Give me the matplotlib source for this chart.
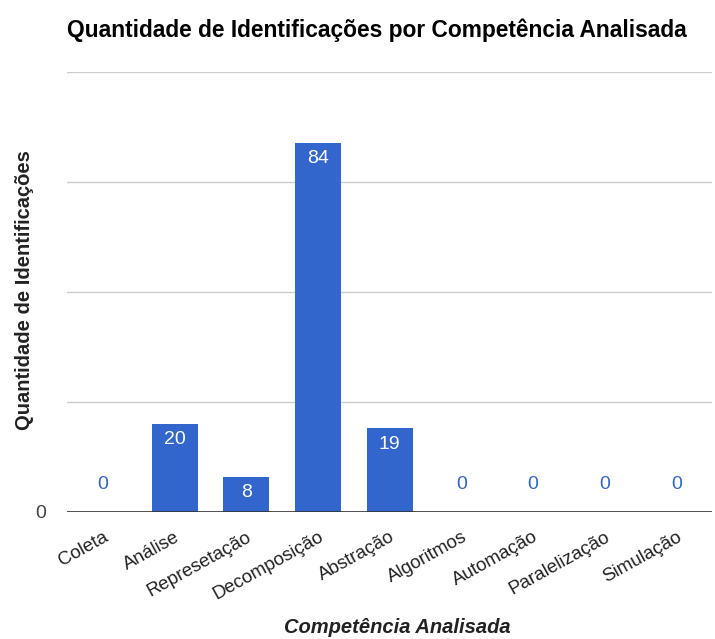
import matplotlib
matplotlib.use('Agg')
import matplotlib.pyplot as plt
import numpy as np

# data
competencias = ['Coleta', 'Análise', 'Represetação', 'Decomposição', 'Abstração',
                'Algoritmos', 'Automação', 'Paralelização', 'Simulação']
identificacoes = [0, 20, 8, 84, 19, 0, 0, 0, 0]
y_ticks = [0, 25, 50, 75, 100]
y_tick_labels = ['0', '', '', '', '']

plt.rcParams['font.family'] = ['Liberation Sans', 'DejaVu Sans']

fig = plt.figure(figsize=(7.15, 6.39), dpi=100)
ax = fig.add_axes([0.094, 0.199, 0.902, 0.688])

x = np.arange(len(competencias))
bars = ax.bar(x, identificacoes, width=0.64, color='#3366cc', zorder=3)

ax.set_xlim(-0.5, len(competencias) - 0.5)
ax.set_ylim(0, 100)
ax.set_yticks(y_ticks)
ax.set_yticklabels(y_tick_labels)
ax.grid(axis='y', color='#cccccc', linewidth=1, zorder=0)
ax.axhline(0, color='#333333', linewidth=1.2, zorder=4)

for s in ax.spines.values():
    s.set_visible(False)
ax.tick_params(axis='both', length=0)
ax.tick_params(axis='y', labelcolor='#444444', labelsize=14, pad=15)

ax.set_xticks(x)
ax.set_xticklabels(competencias, rotation=29, ha='right', rotation_mode='anchor',
                   fontsize=13.5, color='#222222')
ax.tick_params(axis='x', pad=12)

# value labels
for xi, v in zip(x, identificacoes):
    if v > 0:
        ax.annotate(str(v), (xi, v), xytext=(0, -11.5), textcoords='offset points',
                    ha='center', va='center', color='white', fontsize=14, zorder=5)
    else:
        ax.annotate(str(v), (xi, 0), xytext=(0, 20), textcoords='offset points',
                    ha='center', va='center', color='#3366cc', fontsize=14, zorder=5)

fig.text(0.094, 0.952, 'Quantidade de Identificações por Competência Analisada',
         fontsize=16.4, fontweight='bold', ha='left', va='center', color='black')
ax.set_ylabel('Quantidade de Identificações', fontsize=14.5, fontweight='bold',
              color='#222222')
ax.yaxis.set_label_coords(-0.052, 0.505)
ax.set_xlabel('Competência Analisada', fontsize=14.5, fontweight='bold',
              fontstyle='italic', color='#222222', va='center')
ax.xaxis.set_label_coords(0.512, -0.262)

fig.savefig('out.png', dpi=100)
